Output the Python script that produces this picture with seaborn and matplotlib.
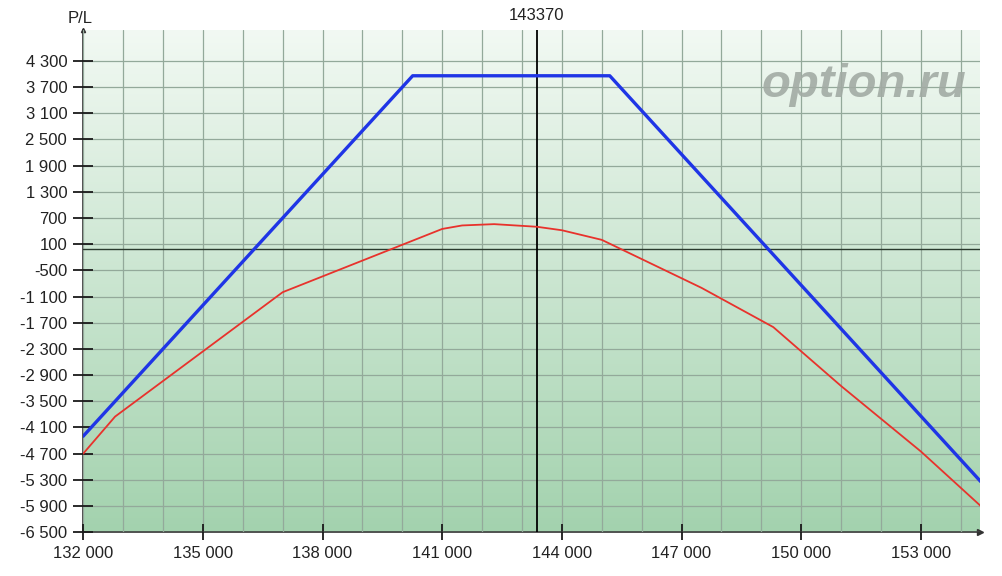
import numpy as np
import pandas as pd
import seaborn as sns
import matplotlib.pyplot as plt
from matplotlib.ticker import FixedLocator, MultipleLocator, FuncFormatter

# profil P/L a l'expiration (bleu) et aujourd'hui (rouge)
prix_expi = [132000, 140260, 145200, 154500]
pl_expi = [-4300, 3960, 3960, -5340]

prix_auj = [132000, 132800, 137000, 141000, 141500, 142300, 143370, 144000,
            145000, 147500, 149300, 151000, 153000, 154500]
pl_auj = [-4700, -3850, -1000, 450, 530, 560, 500, 420,
          200, -900, -1800, -3150, -4650, -5900]

spot = 143370
y_ticks = list(range(-6500, 4301, 600))
x_ticks = list(range(132000, 154000, 3000))

df_expi = pd.DataFrame({"prix": prix_expi, "pl": pl_expi})
df_auj = pd.DataFrame({"prix": prix_auj, "pl": pl_auj})

sns.set_style("white")
plt.rcParams['font.family'] = ['Liberation Sans', 'DejaVu Sans']

fig = plt.figure(figsize=(10.02, 5.76), dpi=100)
ax = fig.add_axes([0.083, 0.076, 0.895, 0.872])

xmin, xmax = 132000, 154480
ymin, ymax = -6500, 5010

# fond degrade blanc -> vert
grad = np.linspace(0, 1, 256).reshape(-1, 1)
top = np.array([242, 249, 243]) / 255
bot = np.array([163, 210, 174]) / 255
img = top + (bot - top) * grad[..., None]
ax.imshow(img.reshape(256, 1, 3), extent=[xmin, xmax, ymin, ymax],
          aspect='auto', origin='upper', zorder=0)

sns.lineplot(data=df_auj, x="prix", y="pl", color="#e8322c", lw=1.3, ax=ax, zorder=4)
sns.lineplot(data=df_expi, x="prix", y="pl", color="#1f35e6", lw=2.4, ax=ax, zorder=5)

ax.axhline(0, color="#2a3a2e", lw=1.0, zorder=3)
ax.axvline(spot, color="black", lw=1.3, zorder=3)
ax.text(spot, ymax + 150, str(spot), ha='center', va='bottom', fontsize=12, color="#222222")

ax.set_xlim(xmin, xmax)
ax.set_ylim(ymin, ymax)

ax.xaxis.set_major_locator(FixedLocator(x_ticks))
ax.xaxis.set_minor_locator(MultipleLocator(1000))
ax.yaxis.set_major_locator(FixedLocator(y_ticks))
fmt = FuncFormatter(lambda v, p: "{:,.0f}".format(v).replace(",", " "))
ax.xaxis.set_major_formatter(fmt)
ax.yaxis.set_major_formatter(fmt)

ax.grid(True, which='both', axis='x', color="#93a99a", lw=0.9, zorder=1)
ax.grid(True, which='major', axis='y', color="#93a99a", lw=0.9, zorder=1)
ax.set_axisbelow(False)
for gl in ax.get_xgridlines() + ax.get_ygridlines():
    gl.set_zorder(1)

ax.tick_params(left=True, bottom=True)
ax.tick_params(axis='y', which='major', direction='inout', length=15, width=1.3,
               color="#1a1a1a", labelsize=12, labelcolor="#222222", pad=4)
ax.tick_params(axis='x', which='major', direction='inout', length=12, width=1.3,
               color="#1a1a1a", labelsize=12, labelcolor="#222222", pad=4)
ax.tick_params(axis='both', which='minor', length=0)

for s in ['top', 'right']:
    ax.spines[s].set_visible(False)
for s in ['left', 'bottom']:
    ax.spines[s].set_color("#333333")
    ax.spines[s].set_linewidth(1.2)
ax.plot(1, 0, ">", transform=ax.transAxes, color="#333333", ms=4, clip_on=False)
ax.plot(0, 1, "^", transform=ax.transAxes, color="#333333", ms=3, clip_on=False)

ax.set_xlabel("")
ax.set_ylabel("")
fig.text(0.08, 0.955, "P/L", ha='center', va='bottom', fontsize=12, color="#222222")

ax.text(0.985, 0.935, "option.ru", transform=ax.transAxes, ha='right', va='top',
        fontsize=34, fontweight='bold', fontstyle='italic', color="#a2aba4",
        alpha=0.9, zorder=6)

fig.savefig("out.png", dpi=100)
